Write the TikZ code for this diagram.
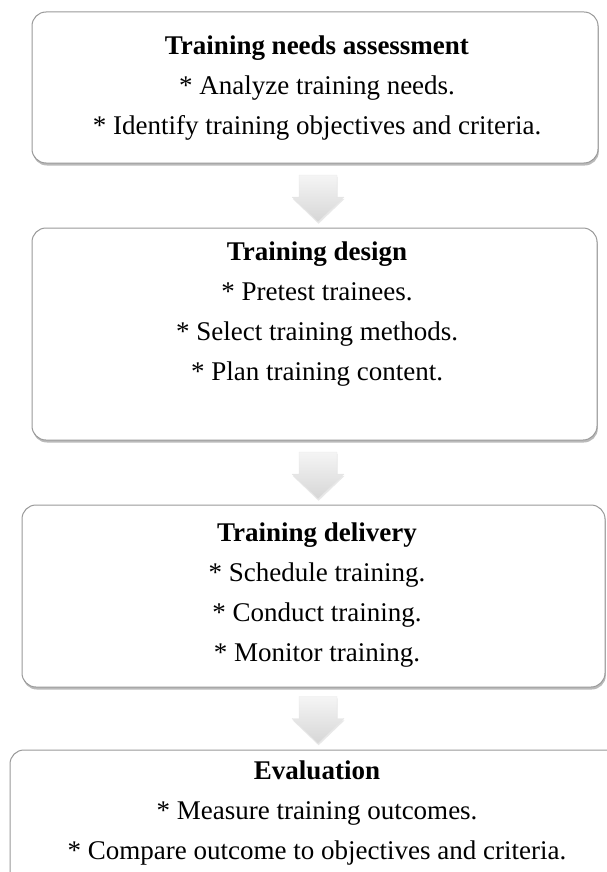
\documentclass[tikz,border=0pt]{standalone}
\usepackage{fontspec}
\setmainfont{Liberation Serif}
\usetikzlibrary{shadows}

\tikzset{
  stagebox/.style={draw=black!40, line width=1pt, fill=white, rounded corners=14pt,
    inner sep=0pt,
    drop shadow={shadow xshift=0.8pt, shadow yshift=-2.5pt, opacity=0.45, fill=black!60}},
  stagetext/.style={align=center, inner sep=0pt, text=black,
    font=\fontsize{27}{40}\selectfont},
  flowarrow/.style={draw=black!10, line width=0.4pt, line join=round,
    top color=black!4, bottom color=black!16,
    drop shadow={shadow xshift=0.6pt, shadow yshift=-1.8pt, opacity=0.18, fill=black!50}}
}

\begin{document}
\begin{tikzpicture}[x=1pt, y=-1pt]
  \useasboundingbox (0,0) rectangle (607,872);
  \clip (0,0) rectangle (607,872);

  % stage frames
  \node[stagebox, minimum width=566pt, minimum height=151pt] (b1) at (315,87.5) {};
  \node[stagebox, minimum width=565pt, minimum height=212pt] (b2) at (314.5,334) {};
  \node[stagebox, minimum width=583pt, minimum height=182pt] (b3) at (313.5,596) {};
  \node[stagebox, minimum width=630pt, minimum height=170pt] (b4) at (325,835) {};

  % centres of the block arrows between stages
  \coordinate (a1) at (318,198.5);
  \coordinate (a2) at (318,475.5);
  \coordinate (a3) at (318,720);

  % block arrows: shaft 38 wide, head 52 wide, 47 long
  \foreach \c in {a1,a2,a3}
    \path[flowarrow] (\c) ++(-19,-23.5) -- ++(38,0) -- ++(0,22) -- ++(7,0)
      -- ++(-26,25) -- ++(-26,-25) -- ++(7,0) -- cycle;

  % stage contents
  \node[stagetext] (t1) at (317,88) {\textbf{Training needs assessment}\\
    * Analyze training needs.\\
    * Identify training objectives and criteria.};
  \node[stagetext] (t2) at (317,314) {\textbf{Training design}\\
    * Pretest trainees.\\
    * Select training methods.\\
    * Plan training content.};
  \node[stagetext] (t3) at (317,595) {\textbf{Training delivery}\\
    * Schedule training.\\
    * Conduct training.\\
    * Monitor training.};
  \node[stagetext] (t4) at (317,812.5) {\textbf{Evaluation}\\
    * Measure training outcomes.\\
    * Compare outcome to objectives and criteria.};
\end{tikzpicture}
\end{document}
